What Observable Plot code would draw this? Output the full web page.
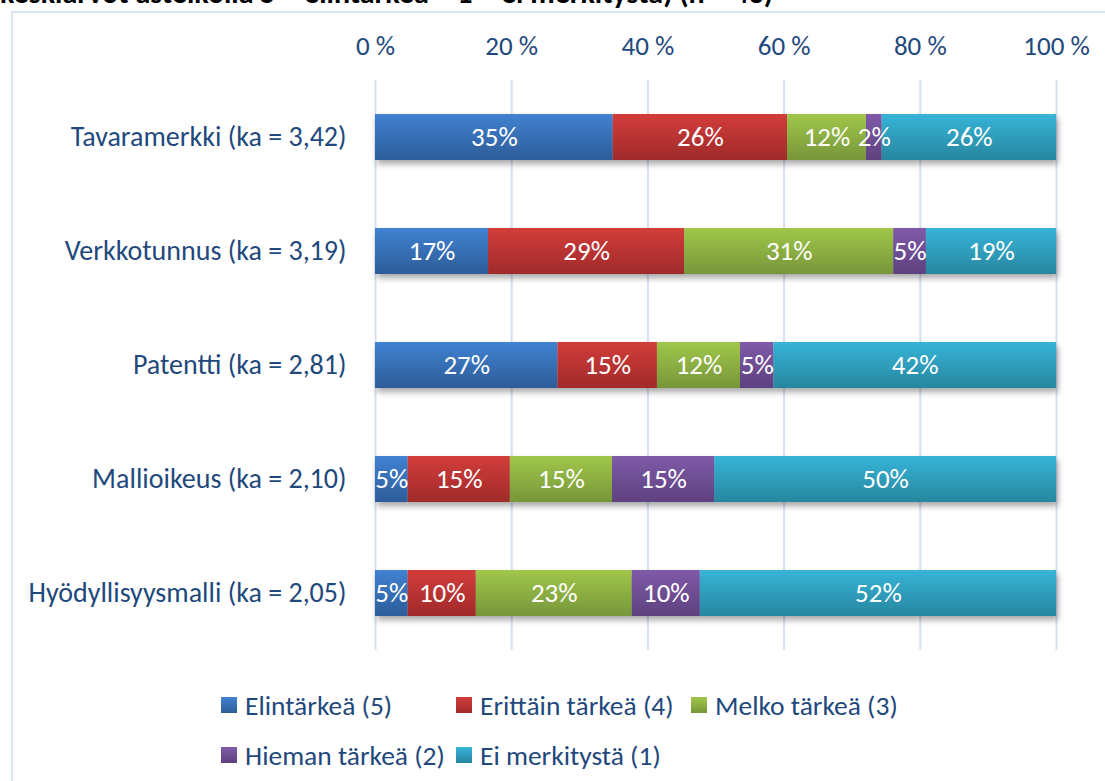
<!DOCTYPE html>
<html>
<head>
<meta charset="utf-8">
<script src="https://cdn.jsdelivr.net/npm/d3@7"></script>
<script src="https://cdn.jsdelivr.net/npm/@observablehq/plot@0.6"></script>
<style>
  html, body { margin: 0; padding: 0; background: #fff; overflow: hidden; width: 1105px; height: 781px; }
  body { position: relative; font-family: Carlito, Lato, "Liberation Sans", sans-serif; }
  #title { position: absolute; left: 0; top: -22px; font-size: 30px; font-weight: bold; color: #000; white-space: nowrap; line-height: 30px; }
  #frame { position: absolute; left: 11px; top: 11px; width: 1200px; height: 900px; border: 2px solid #dae5f3; box-sizing: border-box; }
  #chart { position: absolute; left: 0; top: 0; }
  #legend { position: absolute; left: 221px; top: 680px; display: grid; grid-template-columns: repeat(3, 235px); grid-auto-rows: 50px; align-items: center; }
  .item { display: flex; align-items: center; font-size: 27.5px; color: #1f497d; white-space: nowrap; }
  .sw { width: 16px; height: 16px; margin-right: 8px; flex: none; }
</style>
</head>
<body>
<div id="title">keskiarvot asteikolla 5 = elintärkeä – 1 = ei merkitystä) (n = 43)</div>
<div id="frame"></div>
<div id="chart"></div>
<div id="legend"></div>
<script>
const categories = [
  "Tavaramerkki (ka = 3,42)",
  "Verkkotunnus (ka = 3,19)",
  "Patentti (ka = 2,81)",
  "Mallioikeus (ka = 2,10)",
  "Hyödyllisyysmalli (ka = 2,05)"
];
const seriesNames = ["Elintärkeä (5)", "Erittäin tärkeä (4)", "Melko tärkeä (3)", "Hieman tärkeä (2)", "Ei merkitystä (1)"];
// shares (%) per category, in series order
const elintarkea   = [34.9, 16.6, 26.8, 4.8, 4.8];
const erittain     = [25.6, 28.8, 14.6, 15.0, 10.0];
const melko        = [11.6, 30.7, 12.2, 15.0, 22.9];
const hieman       = [2.3, 4.8, 4.9, 15.0, 10.0];
const eiMerkitysta = [25.6, 19.1, 41.5, 50.2, 52.3];
const xTicks = [0, 20, 40, 60, 80, 100];

const colorsTop = ["#4182d2", "#d23d3b", "#a0c74a", "#7f5aa8", "#37b4d8"];
const colorsBottom = ["#2d5c98", "#a02a2a", "#77963a", "#5e417f", "#27869f"];

const seriesValues = [elintarkea, erittain, melko, hieman, eiMerkitysta];
const data = [];
categories.forEach((c, i) => {
  seriesNames.forEach((s, j) => {
    data.push({category: c, series: s, value: seriesValues[j][i]});
  });
});

const gradIds = seriesNames.map((_, j) => `url(#grad${j})`);
const fontFam = "Carlito, Lato, 'Liberation Sans', sans-serif";

const chart = Plot.plot({
  width: 1105,
  height: 680,
  marginTop: 80,
  marginBottom: 30,
  marginLeft: 375,
  marginRight: 49,
  style: {fontFamily: fontFam, background: "transparent", overflow: "visible"},
  x: {domain: [0, 100]},
  y: {domain: categories, paddingInner: 0.6, paddingOuter: 0.3},
  color: {domain: seriesNames, range: gradIds},
  marks: [
    Plot.gridX(xTicks, {stroke: "#d5e0f0", strokeWidth: 2, strokeOpacity: 1}),
    Plot.barX(data, Plot.stackX({x: "value", y: "category", fill: "series", order: null})),
    Plot.text(data, Plot.stackX({x: "value", y: "category", order: null, text: d => Math.round(d.value) + "%", fill: "white", fontSize: 27})),
    Plot.axisX({anchor: "top", ticks: xTicks, tickFormat: d => d + " %", tickSize: 0, tickPadding: 26, fontSize: 27, color: "#1f497d", label: null}),
    Plot.axisY({tickSize: 0, tickPadding: 29, fontSize: 28, color: "#1f497d", label: null})
  ]
});

// gradients
const svg = d3.select(chart);
const defs = svg.insert("defs", ":first-child");
seriesNames.forEach((_, j) => {
  const g = defs.append("linearGradient").attr("id", `grad${j}`).attr("x1", 0).attr("y1", 0).attr("x2", 0).attr("y2", 1);
  g.append("stop").attr("offset", "0%").attr("stop-color", colorsTop[j]);
  g.append("stop").attr("offset", "100%").attr("stop-color", colorsBottom[j]);
});
svg.selectAll("g[aria-label='bar']").style("filter", "drop-shadow(2px 4px 3px rgba(0,0,0,0.35))");

document.getElementById("chart").appendChild(chart);

const legend = d3.select("#legend");
seriesNames.forEach((s, j) => {
  const it = legend.append("div").attr("class", "item");
  it.append("div").attr("class", "sw").style("background", `linear-gradient(${colorsTop[j]}, ${colorsBottom[j]})`);
  it.append("span").text(s);
});
</script>
</body>
</html>
